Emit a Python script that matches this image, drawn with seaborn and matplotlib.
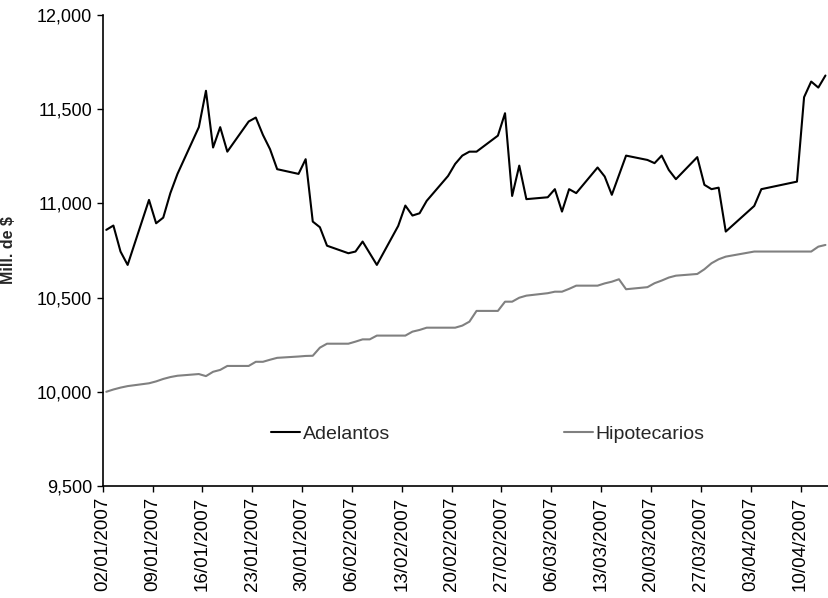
import pandas as pd
import matplotlib.pyplot as plt
import matplotlib.dates as mdates
import matplotlib.ticker as mticker
import seaborn as sns

# Fechas hábiles (sin feriados 02/04, 05/04, 06/04)
fechas = [
    "02/01/2007", "03/01/2007", "04/01/2007", "05/01/2007", "08/01/2007",
    "09/01/2007", "10/01/2007", "11/01/2007", "12/01/2007", "15/01/2007",
    "16/01/2007", "17/01/2007", "18/01/2007", "19/01/2007", "22/01/2007",
    "23/01/2007", "24/01/2007", "25/01/2007", "26/01/2007", "29/01/2007",
    "30/01/2007", "31/01/2007", "01/02/2007", "02/02/2007", "05/02/2007",
    "06/02/2007", "07/02/2007", "08/02/2007", "09/02/2007", "12/02/2007",
    "13/02/2007", "14/02/2007", "15/02/2007", "16/02/2007", "19/02/2007",
    "20/02/2007", "21/02/2007", "22/02/2007", "23/02/2007", "26/02/2007",
    "27/02/2007", "28/02/2007", "01/03/2007", "02/03/2007", "05/03/2007",
    "06/03/2007", "07/03/2007", "08/03/2007", "09/03/2007", "12/03/2007",
    "13/03/2007", "14/03/2007", "15/03/2007", "16/03/2007", "19/03/2007",
    "20/03/2007", "21/03/2007", "22/03/2007", "23/03/2007", "26/03/2007",
    "27/03/2007", "28/03/2007", "29/03/2007", "30/03/2007", "03/04/2007",
    "04/04/2007", "09/04/2007", "10/04/2007", "11/04/2007", "12/04/2007",
    "13/04/2007",
]

adelantos = [
    10859, 10882, 10744, 10673, 11018,
    10894, 10924, 11054, 11156, 11404,
    11597, 11296, 11404, 11274, 11434,
    11455, 11363, 11287, 11181, 11156,
    11234, 10903, 10873, 10775, 10735,
    10744, 10797, 10735, 10673, 10880,
    10988, 10935, 10947, 11013, 11145,
    11209, 11253, 11274, 11274, 11359,
    11478, 11039, 11200, 11022, 11032,
    11075, 10956, 11075, 11054, 11190,
    11142, 11045, 11149, 11253, 11230,
    11213, 11253, 11177, 11128, 11245,
    11098, 11075, 11083, 10850, 10986,
    11075, 11115, 11563, 11646, 11614,
    11678,
]

hipotecarios = [
    10000, 10012, 10022, 10030, 10045,
    10055, 10068, 10078, 10085, 10094,
    10083, 10106, 10116, 10137, 10137,
    10159, 10159, 10170, 10180, 10187,
    10190, 10191, 10234, 10255, 10255,
    10266, 10278, 10278, 10298, 10298,
    10298, 10319, 10328, 10340, 10340,
    10340, 10351, 10372, 10429, 10429,
    10478, 10478, 10499, 10510, 10523,
    10531, 10531, 10546, 10563, 10563,
    10575, 10584, 10597, 10544, 10555,
    10576, 10590, 10606, 10616, 10625,
    10650, 10682, 10703, 10717, 10744,
    10744, 10744, 10744, 10744, 10770,
    10779,
]

# Armar el DataFrame; los puntos van al centro de cada día (como en Excel)
df = pd.DataFrame({
    "Fecha": pd.to_datetime(fechas, format="%d/%m/%Y") + pd.Timedelta(hours=12),
    "Adelantos": adelantos,
    "Hipotecarios": hipotecarios,
})

sns.set_theme(style="ticks")
plt.rcParams["font.family"] = ["Liberation Sans", "DejaVu Sans"]

fig = plt.figure(figsize=(8.29, 5.98), dpi=100)
ax = fig.add_axes([0.1239, 0.1873, 0.8761, 0.7879])

sns.lineplot(data=df, x="Fecha", y="Adelantos", color="black", linewidth=1.5,
             label="Adelantos", ax=ax)
sns.lineplot(data=df, x="Fecha", y="Hipotecarios", color="#808080", linewidth=1.5,
             label="Hipotecarios", ax=ax)

# Ejes
ax.set_ylim(9500, 12000)
ax.set_yticks(range(9500, 12001, 500))
ax.yaxis.set_major_formatter(mticker.FuncFormatter(lambda v, p: f"{int(v):,}"))
ax.set_xlim(pd.Timestamp("2007-01-02"), pd.Timestamp("2007-04-14"))
ax.set_xticks(pd.date_range("2007-01-02", "2007-04-10", freq="7D"))
ax.xaxis.set_major_formatter(mdates.DateFormatter("%d/%m/%Y"))
ax.tick_params(axis="x", rotation=90, labelsize=13.5, length=4, width=1, color="black")
ax.tick_params(axis="y", labelsize=13, length=4, width=1, color="black")
for lbl in ax.get_xticklabels() + ax.get_yticklabels():
    lbl.set_color("black")

ax.set_xlabel("")
ax.set_ylabel("Mill. de $", fontsize=11.5, fontweight="bold")
ax.yaxis.set_label_coords(-0.119, 0.5)

sns.despine(ax=ax)
for s in ["left", "bottom"]:
    ax.spines[s].set_color("black")
    ax.spines[s].set_linewidth(1.2)

ax.legend(loc="center left", bbox_to_anchor=(0.232, 0.11), ncol=2, frameon=False,
          fontsize=14, handlelength=1.5, handletextpad=0.15, columnspacing=8.9,
          borderpad=0, borderaxespad=0)

plt.savefig("out.png", dpi=100)
